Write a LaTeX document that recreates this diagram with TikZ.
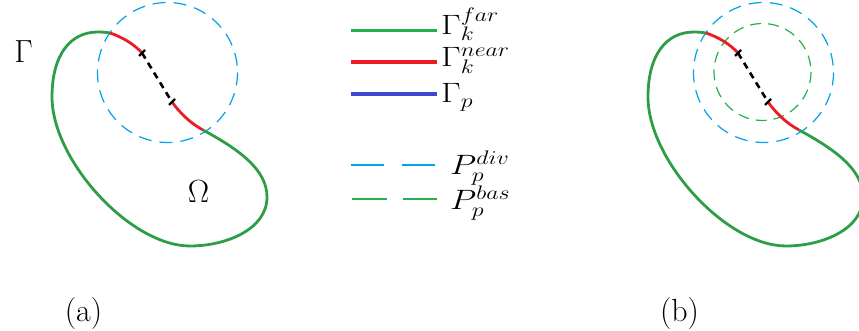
\RequirePackage{fix-cm}
\documentclass[tikz,border=0pt]{standalone}
\usepackage{graphicx}
\usetikzlibrary{calc}
\definecolor{cgreen}{HTML}{2E9E46}
\definecolor{lgreen}{HTML}{22B14C}
\definecolor{cred}{HTML}{ED1C24}
\definecolor{cblue}{HTML}{3F48CC}
\definecolor{cdiv}{HTML}{00A2E8}
\newcommand{\legtext}[1]{\scalebox{1.22}[1]{$#1$}}
\tikzset{
  farline/.style={draw=cgreen,line width=2.8pt},
  nearline/.style={draw=cred,line width=2.8pt},
  gapline/.style={draw=black,line width=2.6pt,dash pattern=on 6.5pt off 5pt},
  tickline/.style={draw=black,line width=2.4pt},
  divcircle/.style={draw=cdiv,line width=1.2pt,dash pattern=on 13pt off 8pt},
  bascircle/.style={draw=lgreen,line width=1.2pt,dash pattern=on 11pt off 7pt},
  biglabel/.style={inner sep=0pt,anchor=base,font=\fontsize{32}{37}\selectfont},
  leglabel/.style={inner sep=0pt,anchor=base west,font=\fontsize{28}{33}\selectfont},
}
\begin{document}
\begin{tikzpicture}[x=1pt,y=-1pt]
\useasboundingbox (0,0) rectangle (859,331);
% ---------- domains ----------
\foreach \dx/\withbas in {0/0,596/1}{
\begin{scope}[xshift=\dx pt]
  \draw[divcircle] (167.5,72.5) circle[radius=70];
  \ifnum\withbas=1
    \draw[bascircle] (166.5,72) circle[radius=48.5];
  \fi
  \draw[farline] (203,130) .. controls (240,150) and (267,170) .. (267,197)
     .. controls (267,230) and (225,246) .. (190,246)
     .. controls (130,246) and (52,160) .. (52,97)
     .. controls (52,55) and (70,32) .. (98,32)
     .. controls (102,32) and (106,32.3) .. (110,33);
  \draw[nearline] (110,33) .. controls (122,37) and (134,44) .. (142,53);
  \draw[nearline] (172,102) .. controls (180,113) and (190,123) .. (203,130);
  \coordinate (t1) at (142,53);
  \coordinate (t2) at (172,102);
  \draw[gapline] (t1) -- (t2);
  \draw[tickline] ($(t1)+(-3,3)$) -- ($(t1)+(3,-3)$);
  \draw[tickline] ($(t2)+(-3,3)$) -- ($(t2)+(3,-3)$);
\end{scope}
}
% ---------- labels ----------
\node[biglabel] (gam) at (23.5,63) {$\Gamma$};
\node[biglabel] (om) at (198.5,203) {$\Omega$};
\node[biglabel] (la) at (83.5,321) {(a)};
\node[biglabel] (lb) at (679.5,321) {(b)};
% ---------- legend ----------
\coordinate (g1) at (351,31);  \coordinate (g2) at (437,31);
\coordinate (r1) at (351,62);  \coordinate (r2) at (437,62);
\coordinate (b1) at (351,94);  \coordinate (b2) at (437,94);
\coordinate (d1) at (351,165); \coordinate (d2) at (437,165);
\coordinate (e1) at (352,199); \coordinate (e2) at (437,199);
\draw[draw=lgreen,line width=3pt] (g1) -- (g2);
\draw[draw=cred,line width=3.6pt] (r1) -- (r2);
\draw[draw=cblue,line width=3.6pt] (b1) -- (b2);
\draw[draw=cdiv,line width=2.8pt,dash pattern=on 33pt off 18pt] (d1) -- (d2);
\draw[draw=lgreen,line width=2.2pt,dash pattern=on 35pt off 16pt] (e1) -- (e2);
\node[leglabel] (lfar) at (441,35) {\legtext{\Gamma_k^{far}}};
\node[leglabel] (lnear) at (441,67) {\legtext{\Gamma_k^{near}}};
\node[leglabel] (lp) at (441,103) {\legtext{\Gamma_p}};
\node[leglabel] (ldiv) at (450,175) {\legtext{P_p^{div}}};
\node[leglabel] (lbas) at (450,210) {\legtext{P_p^{bas}}};
\end{tikzpicture}
\end{document}
